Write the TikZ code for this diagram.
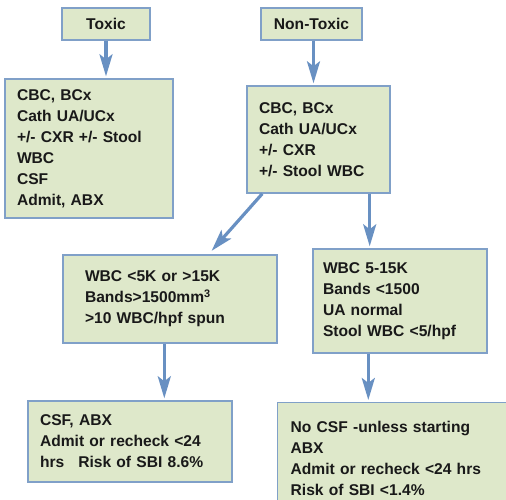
\documentclass[tikz,border=0pt]{standalone}
\usepackage{fontspec}
\setmainfont{Liberation Sans}
\usepackage{xcolor}
\usetikzlibrary{arrows.meta}
\definecolor{boxfill}{RGB}{222,232,202}
\definecolor{boxline}{RGB}{128,160,200}
\definecolor{arrowblue}{RGB}{104,144,194}

\begin{document}
\begin{tikzpicture}[x=1pt, y=-1pt,
          box/.style={draw=boxline, fill=boxfill, line width=1.4pt, align=left, text=black!90, font=\bfseries\fontsize{15.6}{21}\selectfont, inner xsep=12pt, inner ysep=0pt},
          head/.style={box, align=center, minimum height=32pt},
          arrow/.style={-{Stealth[length=22pt, width=13pt, inset=5pt]}, line width=3.2pt, draw=arrowblue, shorten >=2pt}
        ]
          \useasboundingbox (0,0) rectangle (506,500);
          \clip (0,0) rectangle (506,500);

          % Top row
          \node[head, minimum width=88pt] (toxic) at (106,24) {Toxic};
          \node[head, minimum width=101pt] (nontoxic) at (311.5,24) {Non-Toxic};

          % Work-up boxes
          \node[box, minimum width=168pt, minimum height=139pt, text width=144pt] (toxwork) at (89,148.5)
            {CBC, BCx\\Cath UA/UCx\\+/- CXR +/- Stool\\WBC\\CSF\\Admit, ABX};
          \node[box, minimum width=143pt, minimum height=107pt, text width=119pt] (ntwork) at (318.5,139.5)
            {CBC, BCx\\Cath UA/UCx\\+/- CXR\\+/- Stool WBC};

          % Lab results
          \node[box, minimum width=214pt, minimum height=88pt, text width=170pt, inner xsep=22pt] (abnormal) at (170,299)
            {WBC <5K or >15K\\Bands>1500mm\textsuperscript{3}\\>10 WBC/hpf spun};
          \node[box, minimum width=174pt, minimum height=104pt, text width=154pt, inner xsep=10pt] (normal) at (400,301)
            {WBC 5-15K\\Bands <1500\\UA normal\\Stool WBC <5/hpf};

          % Outcomes
          \node[box, minimum width=204pt, minimum height=81pt, text width=180pt] (abnres) at (130,441.5)
            {CSF, ABX\\Admit or recheck <24\\hrs\hspace{0.9em}Risk of SBI 8.6\%};
          \node[box, anchor=north west, minimum width=260pt, minimum height=112pt, text width=236pt, inner xsep=13pt, inner ysep=12pt] (normres) at (277,402)
            {No CSF -unless starting\\ABX\\Admit or recheck <24 hrs\\Risk of SBI <1.4\%};

          % Connections
          \draw[arrow] (toxic.south) -- (toxic.south |- toxwork.north);
          \draw[arrow] ([xshift=2pt]nontoxic.south) -- ([xshift=2pt]nontoxic.south |- ntwork.north);
          \draw[arrow] ([xshift=16pt]ntwork.south west) -- ([xshift=148pt, yshift=2pt]abnormal.north west);
          \draw[arrow] ([xshift=-21pt]ntwork.south east) -- ([xshift=-21pt]ntwork.south east |- normal.north);
          \draw[arrow] ([xshift=102pt]abnormal.south west) -- ([xshift=102pt]abnormal.south west |- abnres.north);
          \draw[arrow] ([xshift=56pt]normal.south west) -- ([xshift=56pt]normal.south west |- normres.north);
        \end{tikzpicture}
\end{document}
